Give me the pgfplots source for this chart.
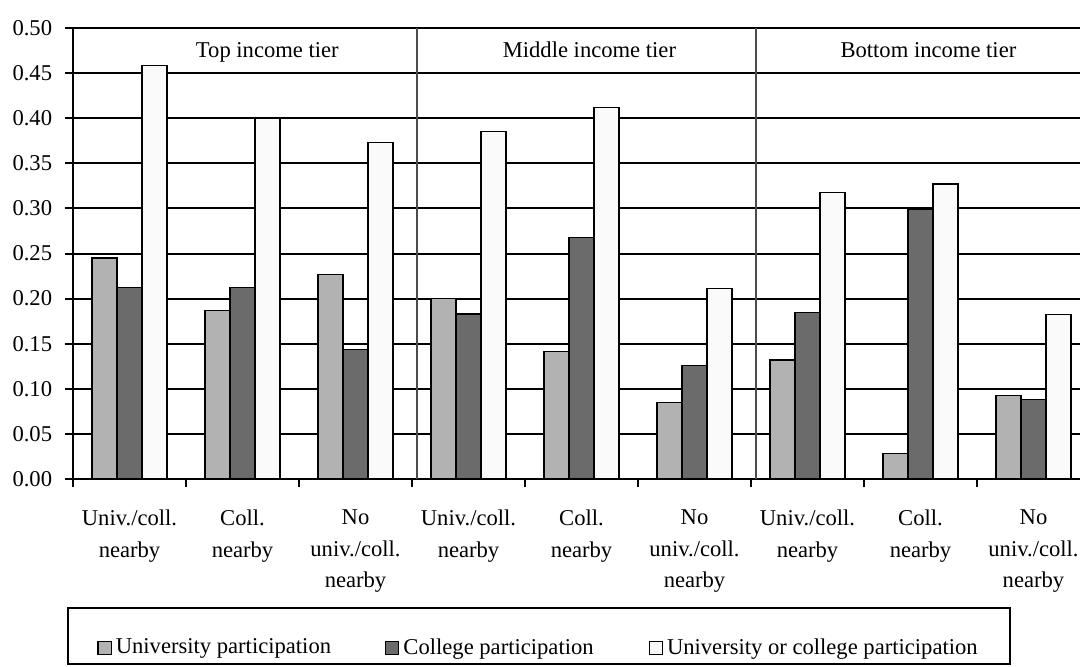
\documentclass[border=0pt]{standalone}
\usepackage{fontspec}
\setmainfont{Liberation Serif}
\usepackage{pgfplots}
\pgfplotsset{compat=1.18}
\definecolor{uni}{HTML}{B2B2B2}
\definecolor{col}{HTML}{6B6B6B}
\definecolor{both}{HTML}{FAFAFA}
\pgfplotsset{sqlegend/.style={legend image code/.code={\draw[##1,draw=black,line width=0.6pt] (0pt,-3.3pt) rectangle (6.6pt,3.3pt);}}}

\begin{document}
\fontsize{11.3}{15.7}\selectfont
\begin{tikzpicture}
\begin{axis}[
    at={(0,0)}, anchor=south west,
    scale only axis,
    width=508.5pt, height=225.5pt,
    xmin=-0.5, xmax=8.5,
    ymin=0, ymax=0.5,
    ybar=0pt, bar width=12.5pt,
    axis line style={black, line width=1pt},
    ymajorgrids,
    major grid style={black, line width=1pt},
    ytick={0,0.05,0.1,0.15,0.2,0.25,0.3,0.35,0.4,0.45,0.5},
    yticklabel style={xshift=-2.5pt, /pgf/number format/.cd, fixed, fixed zerofill, precision=2},
    /pgf/number format/assume math mode=true,
    tick align=outside,
    major tick length=4pt,
    tick style={black, line width=1pt},
    ytick pos=left,
    xtick pos=bottom,
    xtick={-0.5,0.5,1.5,2.5,3.5,4.5,5.5,6.5,7.5},
    xticklabels={},
    extra x ticks={0,1,2,3,4,5,6,7,8},
    extra x tick labels={{Univ./coll.\\nearby},{Coll.\\nearby},{No\\univ./coll.\\nearby},
                         {Univ./coll.\\nearby},{Coll.\\nearby},{No\\univ./coll.\\nearby},
                         {Univ./coll.\\nearby},{Coll.\\nearby},{No\\univ./coll.\\nearby}},
    extra x tick style={tick style={draw=none},
        xticklabel style={align=center, anchor=north, yshift=-7.5pt}},
    legend columns=3,
    legend style={draw=none, fill=none, inner sep=0pt,
        at={(axis description cs:0.0236,-0.3747)}, anchor=west,
        /tikz/column 2/.style={column sep=25pt},
        /tikz/column 4/.style={column sep=25.5pt}},
]
% University participation
\addplot[fill=uni, draw=black, line width=0.6pt, sqlegend] coordinates {
    (0,0.245) (1,0.187) (2,0.227) (3,0.200) (4,0.141) (5,0.085) (6,0.132) (7,0.028) (8,0.093)};
\addlegendentry{University participation}
% College participation
\addplot[fill=col, draw=black, line width=0.6pt, sqlegend] coordinates {
    (0,0.212) (1,0.212) (2,0.144) (3,0.183) (4,0.268) (5,0.126) (6,0.185) (7,0.299) (8,0.088)};
\addlegendentry{College participation}
% University or college participation
\addplot[fill=both, draw=black, line width=0.6pt, sqlegend] coordinates {
    (0,0.458) (1,0.400) (2,0.373) (3,0.385) (4,0.412) (5,0.211) (6,0.318) (7,0.327) (8,0.182)};
\addlegendentry{University or college participation}

% tier separators and labels
\draw[line width=1pt, black!70] (axis cs:2.54,0) -- (axis cs:2.54,0.5);
\draw[line width=1pt, black!70] (axis cs:5.54,0) -- (axis cs:5.54,0.5);
\node at (axis cs:1.22,0.474) {Top income tier\strut};
\node at (axis cs:4.07,0.474) {Middle income tier\strut};
\node at (axis cs:7.07,0.474) {Bottom income tier\strut};
\end{axis}
\draw[line width=1pt] (-2.5pt,-92.5pt) rectangle (468.5pt,-64.5pt);
\pgfresetboundingbox
\useasboundingbox (-36.5pt,-93.5pt) rectangle (503.5pt,239.5pt);
\end{tikzpicture}
\end{document}
